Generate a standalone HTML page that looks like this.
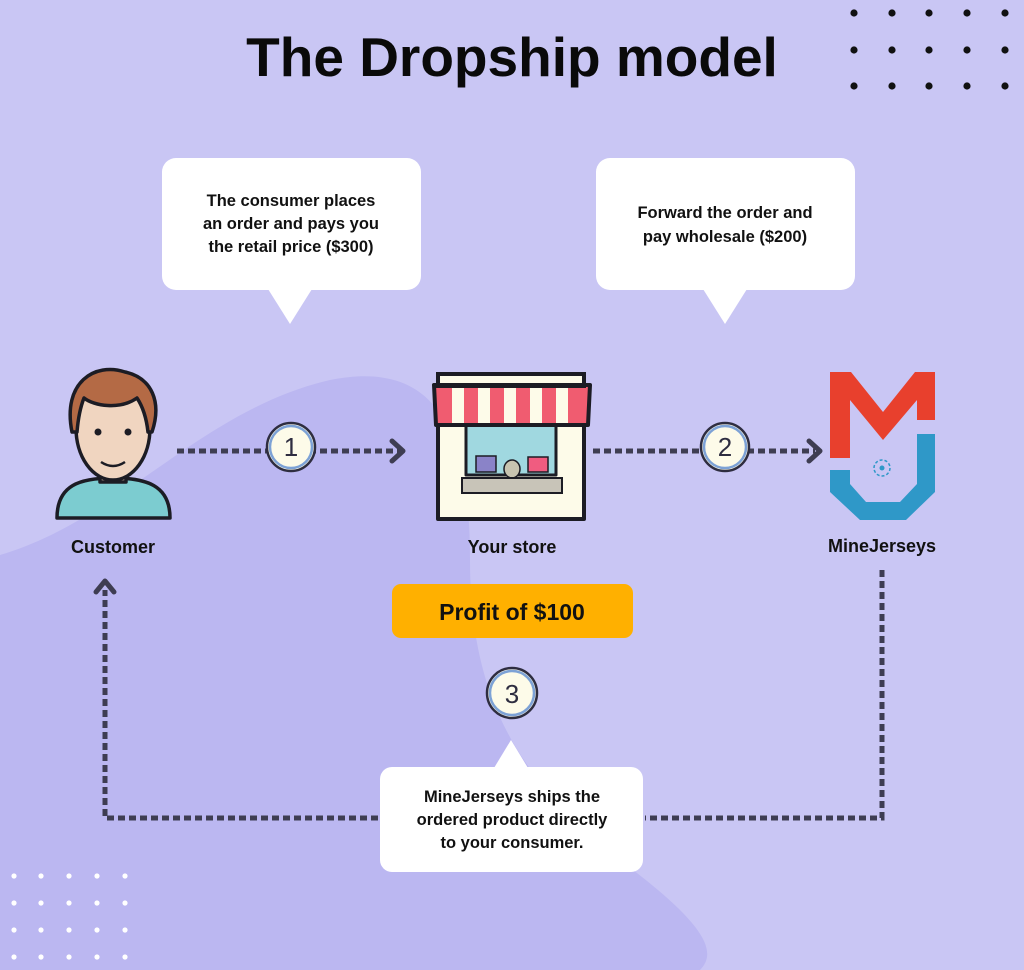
<!DOCTYPE html>
<html><head><meta charset="utf-8"><style>
html,body{margin:0;padding:0;width:1024px;height:970px;overflow:hidden;background:#c9c6f4;}
svg{display:block}
</style></head><body>
<svg width="1024" height="970" viewBox="0 0 1024 970" xmlns="http://www.w3.org/2000/svg" font-family="'Liberation Sans', 'DejaVu Sans', sans-serif">
<rect width="1024" height="970" fill="#c9c6f4"/>
<path d="M0 555 C120 520 200 410 330 380 C430 360 470 420 470 560 C470 700 520 780 620 860 C700 920 720 950 700 970 L0 970 Z" fill="#bbb7f1"/>
<text x="512" y="76" text-anchor="middle" font-size="55" font-weight="bold" fill="#0a0a0a">The Dropship model</text>
<g fill="#111">
<circle cx="854" cy="13" r="3.6"/><circle cx="892" cy="13" r="3.6"/><circle cx="929" cy="13" r="3.6"/><circle cx="967" cy="13" r="3.6"/><circle cx="1005" cy="13" r="3.6"/>
<circle cx="854" cy="50" r="3.6"/><circle cx="892" cy="50" r="3.6"/><circle cx="929" cy="50" r="3.6"/><circle cx="967" cy="50" r="3.6"/><circle cx="1005" cy="50" r="3.6"/>
<circle cx="854" cy="86" r="3.6"/><circle cx="892" cy="86" r="3.6"/><circle cx="929" cy="86" r="3.6"/><circle cx="967" cy="86" r="3.6"/><circle cx="1005" cy="86" r="3.6"/>
</g>
<g fill="#fff">
<circle cx="14" cy="876" r="2.6"/><circle cx="41" cy="876" r="2.6"/><circle cx="69" cy="876" r="2.6"/><circle cx="97" cy="876" r="2.6"/><circle cx="125" cy="876" r="2.6"/>
<circle cx="14" cy="903" r="2.6"/><circle cx="41" cy="903" r="2.6"/><circle cx="69" cy="903" r="2.6"/><circle cx="97" cy="903" r="2.6"/><circle cx="125" cy="903" r="2.6"/>
<circle cx="14" cy="930" r="2.6"/><circle cx="41" cy="930" r="2.6"/><circle cx="69" cy="930" r="2.6"/><circle cx="97" cy="930" r="2.6"/><circle cx="125" cy="930" r="2.6"/>
<circle cx="14" cy="957" r="2.6"/><circle cx="41" cy="957" r="2.6"/><circle cx="69" cy="957" r="2.6"/><circle cx="97" cy="957" r="2.6"/><circle cx="125" cy="957" r="2.6"/>
</g>
<g fill="#fff">
<rect x="162" y="158" width="259" height="132" rx="14"/><path d="M268 289 L290 324 L312 289Z"/>
<rect x="596" y="158" width="259" height="132" rx="14"/><path d="M703 289 L725 324 L747 289Z"/>
<rect x="380" y="767" width="263" height="105" rx="12"/><path d="M494 768 L511 740 L528 768Z"/>
</g>
<g font-size="16.5" font-weight="bold" fill="#111" text-anchor="middle">
<text x="291" y="206">The consumer places</text>
<text x="291" y="229">an order and pays you</text>
<text x="291" y="252">the retail price ($300)</text>
<text x="725" y="218">Forward the order and</text>
<text x="725" y="242">pay wholesale ($200)</text>
<text x="512" y="802">MineJerseys ships the</text>
<text x="512" y="825">ordered product directly</text>
<text x="512" y="848">to your consumer.</text>
</g>
<g stroke="#3e3d52" stroke-width="5" stroke-dasharray="7 4" fill="none">
<path d="M177 451 H400"/>
<path d="M593 451 H815"/>
<path d="M882 570 V818 H645"/>
<path d="M378 818 H105 V590"/>
</g>
<g stroke="#3e3d52" stroke-width="5" fill="none" stroke-linecap="round" stroke-linejoin="round">
<path d="M392 441 L403 451 L392 461"/>
<path d="M809 441 L820 451 L809 461"/>
<path d="M96 592 L105 581 L114 592"/>
</g>
<g stroke="#2e2d40" stroke-width="2.5" fill="#fdfbe9">
<circle cx="291" cy="447" r="24"/><circle cx="725" cy="447" r="24"/><circle cx="512" cy="693" r="25"/>
</g>
<g stroke="#7da2d6" stroke-width="2.5" fill="none">
<circle cx="291" cy="447" r="21"/><circle cx="725" cy="447" r="21"/><circle cx="512" cy="693" r="22"/>
</g>
<g font-size="26" fill="#2e2d40" text-anchor="middle">
<text x="291" y="456">1</text><text x="725" y="456">2</text><text x="512" y="703">3</text>
</g>
<rect x="392" y="584" width="241" height="54" rx="9" fill="#ffb000"/>
<text x="512" y="620" text-anchor="middle" font-size="23" font-weight="bold" fill="#111">Profit of $100</text>
<g font-size="18" font-weight="bold" fill="#111" text-anchor="middle">
<text x="113" y="553">Customer</text>
<text x="512" y="553">Your store</text>
<text x="882" y="552">MineJerseys</text>
</g>
<!-- customer -->
<g stroke="#1c1c24" stroke-width="3.5" stroke-linejoin="round">
<path d="M57 518 C57 485 80 478 113 478 C146 478 170 485 170 518 Z" fill="#7cccd0"/>
<rect x="100" y="458" width="26" height="24" fill="#f0d5c0"/>
<ellipse cx="113" cy="428" rx="37" ry="52" fill="#f0d5c0"/>
<path d="M72 432 C62 382 95 362 125 372 C152 378 162 402 152 432 L148 432 C146 414 141 404 137 398 C120 410 94 406 84 398 C80 408 78 420 77 432 Z" fill="#b46a45"/>
</g>
<circle cx="98" cy="432" r="3.5" fill="#1c1c24"/><circle cx="128" cy="432" r="3.5" fill="#1c1c24"/>
<path d="M101 462 Q113 470 125 462" stroke="#1c1c24" stroke-width="2.5" fill="none"/>
<!-- store -->
<g stroke="#1c1c24" stroke-width="4" stroke-linejoin="round">
<rect x="438" y="374" width="146" height="145" fill="#fdfbe9"/>
<rect x="466" y="420" width="90" height="55" fill="#a0d8e0" stroke-width="3"/>
<path d="M434 385 H590 L588 425 H436 Z" fill="#f05c70"/>
</g>
<g fill="#fdfbe9">
<rect x="452" y="387" width="12" height="36"/><rect x="478" y="387" width="12" height="36"/><rect x="504" y="387" width="12" height="36"/><rect x="530" y="387" width="12" height="36"/><rect x="556" y="387" width="12" height="36"/>
</g>
<rect x="438" y="374" width="146" height="12" fill="none" stroke="#1c1c24" stroke-width="4"/>
<rect x="476" y="456" width="20" height="16" fill="#8a83c8" stroke="#1c1c24" stroke-width="1.5"/>
<rect x="528" y="457" width="20" height="15" fill="#f05c80" stroke="#1c1c24" stroke-width="1.5"/>
<ellipse cx="512" cy="469" rx="8" ry="9" fill="#c8c4b0" stroke="#1c1c24" stroke-width="1.5"/>
<rect x="462" y="478" width="100" height="15" fill="#c8c4b8" stroke="#1c1c24" stroke-width="2"/>
<!-- MJ logo -->
<path d="M830 372 H851 L883 412 L915 372 H935 L935 420 L917 420 L917 400 L883 440 L850 400 L850 458 L830 458 Z" fill="#e8402d"/>
<path d="M917 434 H935 V492 L906 520 H860 L830 492 V470 H850 V484 L866 502 H900 L917 484 Z" fill="#2f98c8"/>
<circle cx="882" cy="468" r="8" fill="none" stroke="#2f98c8" stroke-width="1.5" stroke-dasharray="3 2"/>
<circle cx="882" cy="468" r="2.5" fill="#2f98c8"/>
</svg>
</body></html>
